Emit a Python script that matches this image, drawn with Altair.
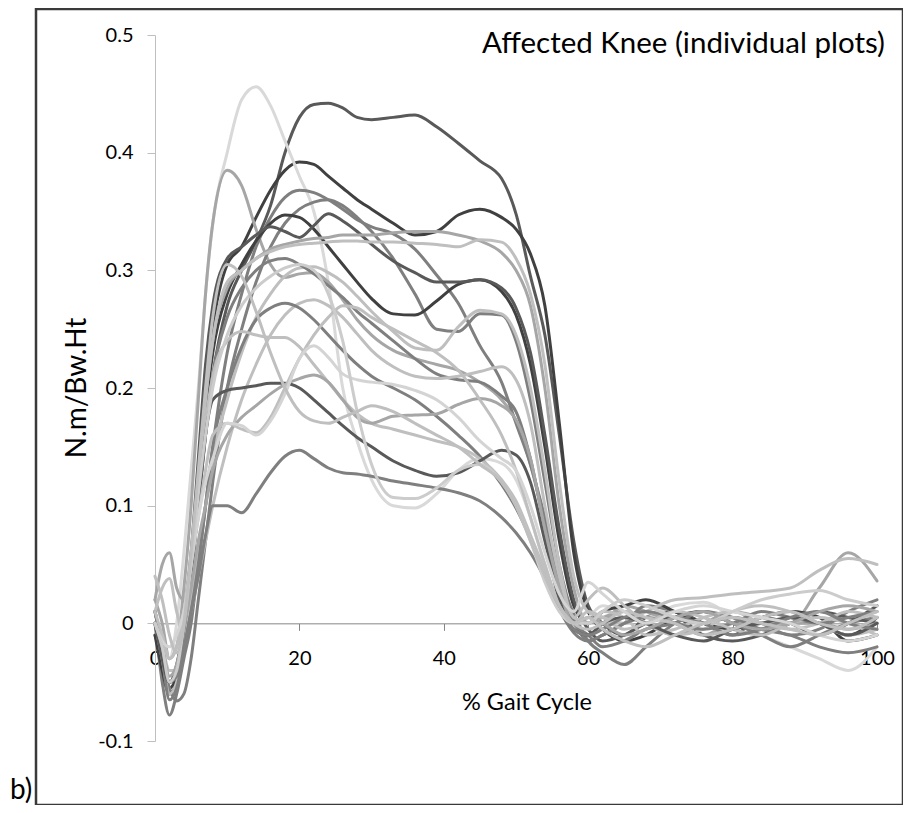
import altair as alt
import pandas as pd

# % gait cycle sample positions shared by all curves
X = [0, 1, 2, 3, 4, 5, 6, 7, 8,
     10, 12, 14, 16, 18, 20, 22, 24, 26, 28, 30, 33, 36, 39, 42, 45, 48, 50, 52, 54, 56, 58,
     60, 62, 65, 68, 72, 76, 80, 84, 88, 92, 96, 100]

# individual knee moment curves (N.m/Bw.Ht)
s01 = [0.01, -0.02, -0.05, -0.045, -0.01, 0.04, 0.10, 0.16, 0.21,
       0.27, 0.30, 0.325, 0.355, 0.40, 0.43, 0.441, 0.442, 0.438, 0.43, 0.428, 0.43, 0.432, 0.422, 0.408, 0.393, 0.378, 0.348, 0.295, 0.245, 0.16, 0.07,
       0.015, 0.0, -0.01, 0.005, 0.01, 0.0, -0.01, 0.005, 0.0, -0.01, 0.0, 0.015]
s02 = [0.0, -0.03, -0.055, -0.045, -0.01, 0.04, 0.11, 0.19, 0.25,
       0.305, 0.32, 0.345, 0.368, 0.385, 0.392, 0.39, 0.38, 0.37, 0.36, 0.352, 0.34, 0.33, 0.333, 0.347, 0.352, 0.345, 0.335, 0.314, 0.27, 0.17, 0.06,
       0.01, -0.005, -0.015, -0.01, 0.005, 0.01, 0.0, -0.005, 0.005, 0.0, -0.01, 0.005]
s03 = [0.0, -0.02, -0.03, 0.0, 0.06, 0.13, 0.20, 0.28, 0.34,
       0.40, 0.445, 0.456, 0.44, 0.41, 0.38, 0.35, 0.29, 0.20, 0.155, 0.122, 0.10, 0.098, 0.11, 0.13, 0.14, 0.136, 0.122, 0.09, 0.05, 0.015, -0.005,
       0.005, 0.015, 0.01, 0.005, 0.015, 0.018, 0.005, -0.01, -0.02, -0.03, -0.04, -0.02]
s04 = [0.02, 0.0, -0.03, -0.02, 0.03, 0.10, 0.19, 0.28, 0.34,
       0.385, 0.372, 0.335, 0.305, 0.294, 0.297, 0.298, 0.29, 0.275, 0.258, 0.245, 0.232, 0.225, 0.22, 0.215, 0.205, 0.19, 0.172, 0.135, 0.085, 0.035, 0.0,
       -0.01, 0.0, 0.015, 0.01, 0.0, -0.01, 0.0, 0.0, 0.0, 0.03, 0.06, 0.036]
s05 = [0.0, -0.05, -0.078, -0.06, -0.03, 0.0, 0.05, 0.10, 0.15,
       0.23, 0.28, 0.32, 0.345, 0.362, 0.368, 0.366, 0.36, 0.352, 0.343, 0.337, 0.331, 0.318, 0.296, 0.272, 0.236, 0.205, 0.17, 0.135, 0.09, 0.04, 0.008,
       -0.015, -0.025, -0.035, -0.02, 0.0, 0.01, 0.0, -0.01, -0.02, -0.01, 0.0, 0.005]
s06 = [-0.01, -0.03, -0.055, -0.066, -0.06, -0.03, 0.02, 0.07, 0.12,
       0.20, 0.25, 0.29, 0.32, 0.34, 0.352, 0.358, 0.36, 0.355, 0.345, 0.333, 0.31, 0.28, 0.25, 0.248, 0.263, 0.262, 0.24, 0.19, 0.12, 0.05, 0.005,
       -0.015, -0.01, 0.0, 0.015, 0.01, 0.0, 0.005, 0.0, -0.01, -0.005, 0.01, 0.02]
s07 = [-0.01, -0.04, -0.06, -0.05, -0.015, 0.04, 0.11, 0.18, 0.23,
       0.28, 0.305, 0.325, 0.34, 0.347, 0.345, 0.335, 0.32, 0.305, 0.29, 0.276, 0.263, 0.262, 0.274, 0.288, 0.292, 0.282, 0.262, 0.22, 0.15, 0.07, 0.015,
       0.0, 0.01, 0.015, 0.02, 0.01, 0.0, -0.005, 0.005, 0.01, 0.005, -0.015, -0.01]
s08 = [0.0, -0.02, -0.05, -0.035, 0.0, 0.06, 0.14, 0.22, 0.27,
       0.31, 0.32, 0.33, 0.337, 0.333, 0.328, 0.338, 0.348, 0.342, 0.333, 0.322, 0.308, 0.298, 0.29, 0.29, 0.292, 0.285, 0.268, 0.23, 0.16, 0.08, 0.02,
       -0.005, -0.015, -0.01, 0.0, 0.005, -0.01, -0.015, -0.01, 0.0, 0.01, 0.005, 0.0]
s09 = [0.02, 0.05, 0.06, 0.03, 0.02, 0.06, 0.12, 0.19, 0.24,
       0.285, 0.30, 0.31, 0.318, 0.322, 0.325, 0.327, 0.328, 0.33, 0.33, 0.33, 0.332, 0.333, 0.333, 0.33, 0.325, 0.315, 0.30, 0.27, 0.20, 0.10, 0.03,
       0.0, 0.005, 0.01, 0.0, -0.01, 0.0, 0.01, 0.005, 0.0, 0.0, -0.005, 0.0]
s10 = [0.0, -0.03, -0.06, -0.05, -0.01, 0.05, 0.12, 0.19, 0.24,
       0.29, 0.30, 0.31, 0.316, 0.32, 0.322, 0.323, 0.324, 0.325, 0.325, 0.324, 0.324, 0.323, 0.322, 0.32, 0.326, 0.324, 0.31, 0.28, 0.22, 0.12, 0.04,
       0.01, 0.005, 0.0, 0.01, 0.02, 0.022, 0.025, 0.027, 0.03, 0.045, 0.055, 0.05]
s11 = [0.0, -0.02, -0.04, -0.04, -0.015, 0.02, 0.06, 0.10, 0.14,
       0.19, 0.23, 0.26, 0.28, 0.295, 0.302, 0.303, 0.298, 0.29, 0.278, 0.265, 0.248, 0.234, 0.232, 0.252, 0.266, 0.263, 0.245, 0.20, 0.13, 0.05, 0.005,
       0.02, 0.03, 0.015, 0.0, -0.01, -0.005, 0.01, 0.015, 0.01, 0.0, -0.01, -0.005]
s12 = [0.01, -0.02, -0.05, -0.04, -0.005, 0.04, 0.10, 0.16, 0.21,
       0.26, 0.285, 0.30, 0.308, 0.31, 0.305, 0.297, 0.287, 0.277, 0.265, 0.255, 0.24, 0.225, 0.212, 0.207, 0.205, 0.193, 0.18, 0.14, 0.08, 0.025, 0.0,
       -0.01, -0.02, -0.015, -0.005, 0.0, 0.01, 0.005, -0.005, -0.01, -0.02, -0.025, -0.02]
s13 = [0.01, 0.03, 0.038, 0.01, -0.01, 0.01, 0.04, 0.07, 0.10,
       0.15, 0.19, 0.22, 0.245, 0.262, 0.272, 0.275, 0.27, 0.26, 0.246, 0.232, 0.218, 0.21, 0.208, 0.21, 0.214, 0.218, 0.207, 0.17, 0.10, 0.04, 0.005,
       0.0, 0.01, 0.005, -0.01, -0.005, 0.005, 0.01, 0.0, -0.005, 0.0, 0.01, 0.005]
s14 = [0.0, -0.03, -0.065, -0.055, -0.025, 0.01, 0.05, 0.10, 0.15,
       0.20, 0.235, 0.258, 0.268, 0.272, 0.268, 0.258, 0.245, 0.232, 0.22, 0.21, 0.20, 0.19, 0.176, 0.16, 0.142, 0.118, 0.098, 0.072, 0.042, 0.012, -0.008,
       -0.015, -0.01, 0.0, 0.005, 0.0, -0.005, 0.0, 0.01, 0.005, 0.0, 0.005, 0.01]
s15 = [0.0, -0.01, -0.03, -0.02, 0.01, 0.05, 0.11, 0.17, 0.21,
       0.24, 0.248, 0.245, 0.243, 0.243, 0.235, 0.22, 0.205, 0.19, 0.178, 0.17, 0.165, 0.16, 0.155, 0.15, 0.14, 0.122, 0.104, 0.075, 0.045, 0.015, 0.0,
       0.01, 0.005, -0.005, 0.0, 0.01, 0.005, -0.005, -0.01, 0.0, 0.005, 0.0, -0.01]
s16 = [0.0, -0.03, -0.05, -0.04, -0.005, 0.04, 0.10, 0.16, 0.19,
       0.198, 0.20, 0.202, 0.204, 0.204, 0.20, 0.19, 0.179, 0.168, 0.158, 0.15, 0.138, 0.13, 0.125, 0.128, 0.138, 0.147, 0.143, 0.12, 0.07, 0.02, -0.005,
       -0.01, 0.0, 0.005, 0.0, -0.01, -0.015, -0.005, 0.0, 0.005, 0.0, -0.01, 0.0]
s17 = [0.01, -0.02, -0.05, -0.045, -0.02, 0.01, 0.04, 0.075, 0.10,
       0.10, 0.094, 0.11, 0.128, 0.142, 0.147, 0.14, 0.132, 0.128, 0.127, 0.125, 0.121, 0.118, 0.115, 0.111, 0.104, 0.09, 0.077, 0.06, 0.038, 0.012, -0.005,
       -0.01, -0.005, 0.005, 0.01, 0.005, 0.0, -0.01, -0.005, 0.005, 0.01, 0.0, -0.005]
s18 = [0.0, -0.02, -0.045, -0.035, -0.005, 0.03, 0.07, 0.10, 0.13,
       0.16, 0.175, 0.185, 0.195, 0.203, 0.208, 0.211, 0.205, 0.19, 0.175, 0.17, 0.176, 0.177, 0.178, 0.186, 0.191, 0.185, 0.173, 0.14, 0.08, 0.03, 0.0,
       0.005, 0.0, -0.01, -0.005, 0.005, 0.01, 0.0, -0.005, 0.0, 0.01, 0.015, 0.01]
s19 = [0.01, -0.01, -0.03, -0.02, 0.01, 0.05, 0.09, 0.13, 0.16,
       0.17, 0.165, 0.162, 0.175, 0.20, 0.225, 0.245, 0.26, 0.27, 0.268, 0.26, 0.25, 0.24, 0.23, 0.215, 0.19, 0.16, 0.13, 0.09, 0.05, 0.015, 0.0,
       -0.005, 0.0, 0.01, 0.005, 0.0, -0.01, -0.005, 0.005, 0.01, 0.0, -0.005, 0.005]
s20 = [0.0, -0.015, -0.02, -0.01, 0.01, 0.05, 0.09, 0.12, 0.14,
       0.17, 0.168, 0.16, 0.172, 0.195, 0.225, 0.236, 0.226, 0.212, 0.207, 0.205, 0.203, 0.198, 0.19, 0.175, 0.155, 0.14, 0.13, 0.10, 0.06, 0.025, 0.01,
       0.035, 0.025, 0.01, 0.0, 0.01, 0.015, 0.01, 0.005, 0.0, -0.01, -0.015, -0.01]
s21 = [0.0, -0.02, -0.05, -0.04, 0.0, 0.05, 0.11, 0.16, 0.20,
       0.245, 0.27, 0.285, 0.295, 0.302, 0.305, 0.30, 0.28, 0.24, 0.18, 0.135, 0.107, 0.106, 0.115, 0.13, 0.135, 0.12, 0.10, 0.07, 0.035, 0.01, 0.0,
       0.0, 0.01, 0.02, 0.015, 0.005, 0.0, 0.01, 0.02, 0.025, 0.028, 0.02, 0.015]
s22 = [0.04, 0.02, -0.01, -0.025, 0.0, 0.06, 0.13, 0.20, 0.26,
       0.305, 0.295, 0.265, 0.23, 0.20, 0.18, 0.172, 0.17, 0.175, 0.18, 0.185, 0.18, 0.17, 0.16, 0.15, 0.135, 0.12, 0.10, 0.07, 0.04, 0.015, 0.0,
       0.005, -0.005, -0.015, -0.02, -0.01, 0.0, 0.005, 0.0, -0.005, -0.01, 0.0, 0.01]

SERIES = [s01, s02, s03, s04, s05, s06, s07, s08, s09, s10, s11,
          s12, s13, s14, s15, s16, s17, s18, s19, s20, s21, s22]
NAMES = [f"S{i + 1:02d}" for i in range(len(SERIES))]
COLORS = ["#595959", "#404040", "#d9d9d9", "#a6a6a6", "#7f7f7f", "#7f7f7f",
          "#404040", "#595959", "#a6a6a6", "#bfbfbf", "#bfbfbf", "#7f7f7f",
          "#bfbfbf", "#7f7f7f", "#bfbfbf", "#595959", "#7f7f7f", "#a6a6a6",
          "#bfbfbf", "#d4d4d4", "#cccccc", "#bfbfbf"]

Y_TICKS = [-0.1, 0.0, 0.1, 0.2, 0.3, 0.4, 0.5]
X_TICKS = [0, 20, 40, 60, 80, 100]

FONT = "Lato"
W, H = 722, 706

rows = []
for name, ys in zip(NAMES, SERIES):
    for x, y in zip(X, ys):
        rows.append({"id": name, "x": x, "y": y})
df = pd.DataFrame(rows)

one = pd.DataFrame({"k": [0]})

x_enc = alt.X(
    "x:Q",
    scale=alt.Scale(domain=[0, 100], nice=False, zero=False),
    axis=alt.Axis(
        values=X_TICKS, title=None, grid=False,
        offset=-H * (0.1 / 0.6),
        domainColor="#868686", tickColor="#868686", tickSize=7,
        domainWidth=1, tickWidth=1,
        labelFont=FONT, labelFontSize=20, labelColor="#000000",
        labelPadding=18, labelFlush=False, labelOverlap=False,
    ),
)
y_enc = alt.Y(
    "y:Q",
    scale=alt.Scale(domain=[-0.1, 0.5], nice=False, zero=False),
    axis=alt.Axis(
        values=Y_TICKS, title=None, grid=False,
        domainColor="#bfbfbf", tickColor="#bfbfbf", tickSize=8,
        domainWidth=1, tickWidth=1,
        labelFont=FONT, labelFontSize=20, labelColor="#000000",
        labelPadding=14,
        labelExpr="datum.value < 0 ? '-' + format(-datum.value, '.1~f') : format(datum.value, '.1~f')",
    ),
)

lines = alt.Chart(df).mark_line(
    interpolate="monotone", strokeWidth=3, strokeCap="round", strokeJoin="round"
).encode(
    x=x_enc,
    y=y_enc,
    color=alt.Color("id:N", scale=alt.Scale(domain=NAMES, range=COLORS), legend=None),
)

frame = alt.Chart(one).mark_rect(
    fillOpacity=0, stroke="#3a3a3a", strokeWidth=2.5
).encode(
    x=alt.value(-119), x2=alt.value(748), y=alt.value(-26), y2=alt.value(770)
)

title_txt = alt.Chart(one).mark_text(
    text="Affected Knee (individual plots)", font=FONT, fontSize=29.5,
    align="right", baseline="alphabetic", color="#000000"
).encode(x=alt.value(730), y=alt.value(18))

x_title = alt.Chart(one).mark_text(
    text="% Gait Cycle", font=FONT, fontSize=23.5,
    align="center", baseline="middle", color="#000000"
).encode(x=alt.value(372), y=alt.value(668))

y_title = alt.Chart(one).mark_text(
    text="N.m/Bw.Ht", font=FONT, fontSize=28, angle=270,
    align="center", baseline="middle", color="#000000"
).encode(x=alt.value(-77), y=alt.value(353))

b_txt = alt.Chart(one).mark_text(
    text="b)", font=FONT, fontSize=28,
    align="left", baseline="alphabetic", color="#000000"
).encode(x=alt.value(-145), y=alt.value(764))

chart = alt.layer(frame, lines, title_txt, x_title, y_title, b_txt).properties(
    width=W, height=H,
    padding={"left": 147, "top": 27, "right": 26, "bottom": 64},
    autosize=alt.AutoSizeParams(type="none"),
).configure_view(stroke=None)

chart.save("out.html", embed_options={"renderer": "svg", "actions": False})
